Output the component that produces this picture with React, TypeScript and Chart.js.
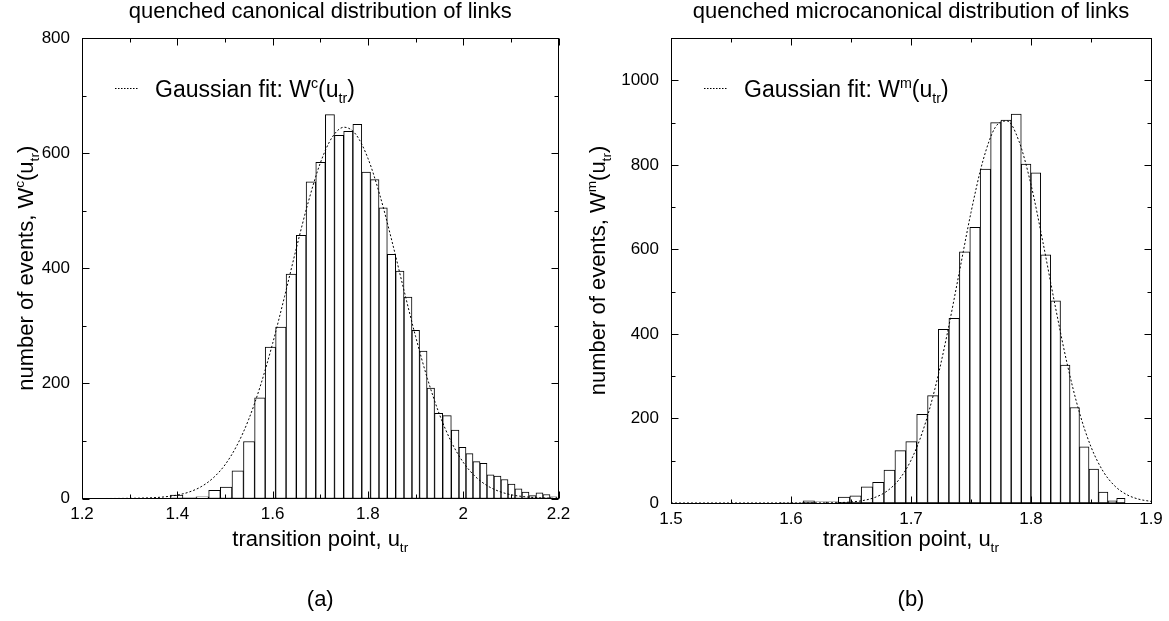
import React, { useEffect, useRef } from 'react';
import { Chart, registerables } from 'chart.js';

Chart.register(...registerables);

const FONT = '"Liberation Sans", Arial, Helvetica, sans-serif';
const PAGE_W = 1169;
const PAGE_H = 621;

// ---------------- Panel (a): quenched canonical distribution ----------------
const A_BIN_CENTERS = [
  1.3987, 1.425, 1.4536, 1.4781, 1.5025, 1.527, 1.5508, 1.5736, 1.5953, 1.6173,
  1.6393, 1.6603, 1.6803, 1.7009, 1.7205, 1.7393, 1.759, 1.7779, 1.7964, 1.8146,
  1.832, 1.8495, 1.8671, 1.8845, 1.9005, 1.9163, 1.932, 1.9477, 1.9663, 1.9838,
  1.9985, 2.0132, 2.0279, 2.0426, 2.0573, 2.072, 2.0867, 2.1014, 2.1161, 2.1307,
  2.1454, 2.1601, 2.1748, 2.1895,
];
const A_COUNTS = [
  6, 1, 3, 14, 20, 48, 99, 175, 263, 298,
  390, 457, 550, 584, 667, 631, 638, 650, 567, 554,
  505, 424, 395, 350, 292, 256, 192, 148, 144, 119,
  89, 78, 64, 61, 41, 39, 33, 25, 17, 11,
  5, 10, 7, 3,
];
const A_FIT_U = [
  1.2, 1.225, 1.25, 1.275, 1.3, 1.325, 1.35, 1.375, 1.4, 1.425,
  1.45, 1.475, 1.5, 1.525, 1.55, 1.575, 1.6, 1.625, 1.65, 1.675,
  1.7, 1.725, 1.75, 1.775, 1.8, 1.825, 1.85, 1.875, 1.9, 1.925,
  1.95, 1.975, 2.0, 2.025, 2.05, 2.075, 2.1, 2.125, 2.15, 2.175, 2.2,
];
const A_FIT_W = [
  0, 0, 0, 0.1, 0.3, 0.7, 1.4, 3.0, 6.0, 11.3,
  20.5, 35.5, 58.4, 92.0, 137.8, 197.4, 269.2, 350.5, 435.4, 515.4,
  582.5, 627.5, 645, 632.2, 591.2, 527.3, 448.7, 364.0, 281.8, 208.1,
  146.5, 98.4, 63.0, 38.5, 22.5, 12.5, 6.6, 3.4, 1.6, 0.7, 0.3,
];
const A_X_TICKS = [1.2, 1.4, 1.6, 1.8, 2.0, 2.2];
const A_X_LABELS = ['1.2', '1.4', '1.6', '1.8', '2', '2.2'];
const A_X_MINOR = [1.3, 1.5, 1.7, 1.9, 2.1];
const A_Y_TICKS = [0, 200, 400, 600, 800];
const A_Y_LABELS = ['0', '200', '400', '600', '800'];
const A_Y_MINOR = [100, 300, 500, 700];

// ---------------- Panel (b): quenched microcanonical distribution ----------------
const B_BIN_CENTERS = [
  1.5957, 1.6054, 1.6147, 1.6245, 1.6346, 1.6443, 1.6538, 1.6632, 1.6728, 1.6821,
  1.6911, 1.7002, 1.7093, 1.7183, 1.7272, 1.736, 1.7447, 1.7533, 1.762, 1.7707,
  1.7792, 1.7878, 1.796, 1.8039, 1.8123, 1.8206, 1.8286, 1.8364, 1.8444, 1.8523,
  1.8603, 1.8679, 1.8749,
];
const B_COUNTS = [
  1, 1, 5, 3, 3, 14, 17, 38, 49, 78,
  124, 145, 210, 254, 411, 437, 594, 652, 790, 900,
  906, 920, 802, 781, 587, 478, 326, 226, 133, 80,
  26, 5, 11,
];
const B_FIT_U = [
  1.5, 1.51, 1.52, 1.53, 1.54, 1.55, 1.56, 1.57, 1.58, 1.59,
  1.6, 1.61, 1.62, 1.63, 1.64, 1.65, 1.66, 1.67, 1.68, 1.69,
  1.7, 1.71, 1.72, 1.73, 1.74, 1.75, 1.76, 1.77, 1.78, 1.79,
  1.8, 1.81, 1.82, 1.83, 1.84, 1.85, 1.86, 1.87, 1.88, 1.89, 1.9,
];
const B_FIT_W = [
  0, 0, 0, 0, 0, 0, 0, 0, 0, 0,
  0, 0, 0.1, 0.3, 0.9, 2.4, 5.8, 13.3, 28.2, 55.3,
  101, 171.6, 270.9, 397.5, 542.2, 687.4, 810, 887.6, 903.9, 855.7,
  753.1, 616, 468.4, 331, 217.5, 132.9, 75.4, 39.8, 19.5, 8.9, 3.8,
];
const B_X_TICKS = [1.5, 1.6, 1.7, 1.8, 1.9];
const B_X_LABELS = ['1.5', '1.6', '1.7', '1.8', '1.9'];
const B_X_MINOR = [1.55, 1.65, 1.75, 1.85];
const B_Y_TICKS = [0, 200, 400, 600, 800, 1000];
const B_Y_LABELS = ['0', '200', '400', '600', '800', '1000'];
const B_Y_MINOR = [100, 300, 500, 700, 900];

// ---------------- text ----------------
type Seg = { t: string; k?: 'sup' | 'sub' };

const A_TITLE = 'quenched canonical distribution of links';
const B_TITLE = 'quenched microcanonical distribution of links';
const X_TITLE: Seg[] = [{ t: 'transition point, u' }, { t: 'tr', k: 'sub' }];
const A_Y_TITLE: Seg[] = [
  { t: 'number of events, W' }, { t: 'c', k: 'sup' }, { t: '(u' }, { t: 'tr', k: 'sub' }, { t: ')' },
];
const B_Y_TITLE: Seg[] = [
  { t: 'number of events, W' }, { t: 'm', k: 'sup' }, { t: '(u' }, { t: 'tr', k: 'sub' }, { t: ')' },
];
const A_LEGEND: Seg[] = [
  { t: 'Gaussian fit: W' }, { t: 'c', k: 'sup' }, { t: '(u' }, { t: 'tr', k: 'sub' }, { t: ')' },
];
const B_LEGEND: Seg[] = [
  { t: 'Gaussian fit: W' }, { t: 'm', k: 'sup' }, { t: '(u' }, { t: 'tr', k: 'sub' }, { t: ')' },
];

interface Panel {
  title: string;
  label: string;
  yTitle: Seg[];
  legend: Seg[];
  centers: number[];
  counts: number[];
  fitU: number[];
  fitW: number[];
  xMin: number;
  xMax: number;
  yMax: number;
  xTicks: number[];
  xLabels: string[];
  xMinor: number[];
  yTicks: number[];
  yLabels: string[];
  yMinor: number[];
  canvasLeft: number;
  canvasW: number;
  padR: number;
  yAxisW: number;
  xAxisH: number;
  xTickPad: number;
  yTitleX: number;
}

const PANEL_A: Panel = {
  title: A_TITLE, label: '(a)', yTitle: A_Y_TITLE, legend: A_LEGEND,
  centers: A_BIN_CENTERS, counts: A_COUNTS, fitU: A_FIT_U, fitW: A_FIT_W,
  xMin: 1.2, xMax: 2.2, yMax: 800,
  xTicks: A_X_TICKS, xLabels: A_X_LABELS, xMinor: A_X_MINOR,
  yTicks: A_Y_TICKS, yLabels: A_Y_LABELS, yMinor: A_Y_MINOR,
  canvasLeft: 0, canvasW: 584, padR: 25.5, yAxisW: 82, xAxisH: 122.5, xTickPad: 5.5,
  yTitleX: 33,
};

const PANEL_B: Panel = {
  title: B_TITLE, label: '(b)', yTitle: B_Y_TITLE, legend: B_LEGEND,
  centers: B_BIN_CENTERS, counts: B_COUNTS, fitU: B_FIT_U, fitW: B_FIT_W,
  xMin: 1.5, xMax: 1.9, yMax: 1100,
  xTicks: B_X_TICKS, xLabels: B_X_LABELS, xMinor: B_X_MINOR,
  yTicks: B_Y_TICKS, yLabels: B_Y_LABELS, yMinor: B_Y_MINOR,
  canvasLeft: 584, canvasW: 585, padR: 18, yAxisW: 87, xAxisH: 118, xTickPad: 6,
  yTitleX: 21,
};

// ---------------- rich text helpers ----------------
const SUB_SCALE = 0.62;
function segFont(seg: Seg, size: number) {
  return `${seg.k ? size * SUB_SCALE : size}px ${FONT}`;
}
function richWidth(ctx: CanvasRenderingContext2D, segs: Seg[], size: number) {
  let w = 0;
  for (const s of segs) {
    ctx.font = segFont(s, size);
    w += ctx.measureText(s.t).width;
  }
  return w;
}
function drawRich(
  ctx: CanvasRenderingContext2D, segs: Seg[], x: number, y: number, size: number, align: 'left' | 'center',
) {
  const w = richWidth(ctx, segs, size);
  let cx = align === 'center' ? x - w / 2 : x;
  ctx.textAlign = 'left';
  ctx.textBaseline = 'alphabetic';
  for (const s of segs) {
    ctx.font = segFont(s, size);
    const dy = s.k === 'sup' ? -size * 0.39 : s.k === 'sub' ? size * 0.27 : 0;
    ctx.fillText(s.t, cx, y + dy);
    cx += ctx.measureText(s.t).width;
  }
}

const MAJOR = 7;
const MINOR = 4;

function decorPlugin(p: Panel) {
  return {
    id: 'decor',
    afterDatasetsDraw(chart: any) {
      const { ctx, chartArea: a, scales } = chart;
      const xs = scales.x;
      const ys = scales.y;
      const L = Math.floor(a.left) + 0.5;
      const R = Math.floor(a.right) + 0.5;
      const T = Math.floor(a.top) + 0.5;
      const B = Math.floor(a.bottom) + 0.5;
      ctx.save();
      ctx.strokeStyle = '#000';
      ctx.lineWidth = 1;
      const seg = (x1: number, y1: number, x2: number, y2: number) => {
        ctx.beginPath();
        ctx.moveTo(x1, y1);
        ctx.lineTo(x2, y2);
        ctx.stroke();
      };
      const xTick = (v: number, len: number) => {
        const px = Math.round(xs.getPixelForValue(v)) + 0.5;
        seg(px, B, px, B - len);
        seg(px, T, px, T + len);
      };
      const yTick = (v: number, len: number) => {
        const py = Math.round(ys.getPixelForValue(v)) + 0.5;
        seg(L, py, L + len, py);
        seg(R, py, R - len, py);
      };
      p.xTicks.forEach((v) => xTick(v, MAJOR));
      p.xMinor.forEach((v) => xTick(v, MINOR));
      p.yTicks.forEach((v) => yTick(v, MAJOR));
      p.yMinor.forEach((v) => yTick(v, MINOR));
      ctx.strokeRect(L, T, R - L, B - T);

      // legend
      const lx = a.left + 33;
      const baseY = 97;
      ctx.setLineDash([1.5, 1.5]);
      seg(lx, 88.5, lx + 23, 88.5);
      ctx.setLineDash([]);
      ctx.fillStyle = '#000';
      drawRich(ctx, p.legend, a.left + 73, baseY, 23, 'left');

      // axis titles
      const cx = (a.left + a.right) / 2;
      drawRich(ctx, X_TITLE, cx, 546, 22, 'center');
      ctx.save();
      ctx.translate(p.yTitleX, (a.top + a.bottom) / 2);
      ctx.rotate(-Math.PI / 2);
      drawRich(ctx, p.yTitle, 0, 0, 22, 'center');
      ctx.restore();

      // panel label
      drawRich(ctx, [{ t: p.label }], cx, 606, 22, 'center');
      ctx.restore();
    },
  };
}

function buildConfig(p: Panel): any {
  return {
    type: 'bar',
    data: {
      datasets: [
        {
          type: 'line',
          label: 'Gaussian fit',
          data: p.fitU.map((u, i) => ({ x: u, y: p.fitW[i] })),
          borderColor: '#000',
          borderWidth: 1,
          borderDash: [2, 2],
          pointRadius: 0,
          fill: false,
          cubicInterpolationMode: 'monotone',
          order: 0,
        },
        {
          type: 'bar',
          label: 'events',
          data: p.centers.map((c, i) => ({ x: c, y: p.counts[i] })),
          backgroundColor: '#fff',
          borderColor: '#000',
          borderWidth: 1,
          borderSkipped: false,
          barThickness: 'flex',
          categoryPercentage: 1,
          barPercentage: 1,
          order: 1,
        },
      ],
    },
    options: {
      responsive: false,
      animation: false,
      events: [],
      layout: { padding: { left: 0, right: p.padR, top: 0, bottom: 0 } },
      plugins: {
        legend: { display: false },
        tooltip: { enabled: false },
        title: {
          display: true,
          fullSize: false,
          text: p.title,
          color: '#000',
          font: { family: FONT, size: 22, weight: 'normal', lineHeight: 1 },
          padding: { top: 1.4, bottom: 14.6 },
        },
      },
      scales: {
        x: {
          type: 'linear',
          min: p.xMin,
          max: p.xMax,
          offset: false,
          grid: { display: false, drawTicks: false, offset: false },
          border: { display: false },
          afterBuildTicks: (s: any) => {
            s.ticks = p.xTicks.map((v) => ({ value: v }));
          },
          afterFit: (s: any) => {
            s.height = p.xAxisH;
          },
          ticks: {
            color: '#000',
            font: { family: FONT, size: 17 },
            padding: p.xTickPad,
            maxRotation: 0,
            minRotation: 0,
            autoSkip: false,
            callback: (_v: number, i: number) => p.xLabels[i],
          },
        },
        y: {
          type: 'linear',
          min: 0,
          max: p.yMax,
          grid: { display: false, drawTicks: false },
          border: { display: false },
          afterBuildTicks: (s: any) => {
            s.ticks = p.yTicks.map((v) => ({ value: v }));
          },
          afterFit: (s: any) => {
            s.width = p.yAxisW;
          },
          ticks: {
            color: '#000',
            font: { family: FONT, size: 17 },
            padding: 12,
            autoSkip: false,
            callback: (_v: number, i: number) => p.yLabels[i],
          },
        },
      },
    },
    plugins: [decorPlugin(p)],
  };
}

function PanelChart({ p }: { p: Panel }) {
  const ref = useRef<HTMLCanvasElement | null>(null);
  useEffect(() => {
    if (!ref.current) return;
    const chart = new Chart(ref.current, buildConfig(p));
    return () => chart.destroy();
  }, [p]);
  return (
    <canvas
      ref={ref}
      width={p.canvasW}
      height={PAGE_H}
      style={{ position: 'absolute', left: p.canvasLeft, top: 0, width: p.canvasW, height: PAGE_H }}
    />
  );
}

export default function App() {
  return (
    <div
      style={{
        position: 'absolute',
        left: 0,
        top: 0,
        width: PAGE_W,
        height: PAGE_H,
        background: '#fff',
        overflow: 'hidden',
      }}
    >
      <PanelChart p={PANEL_A} />
      <PanelChart p={PANEL_B} />
    </div>
  );
}
